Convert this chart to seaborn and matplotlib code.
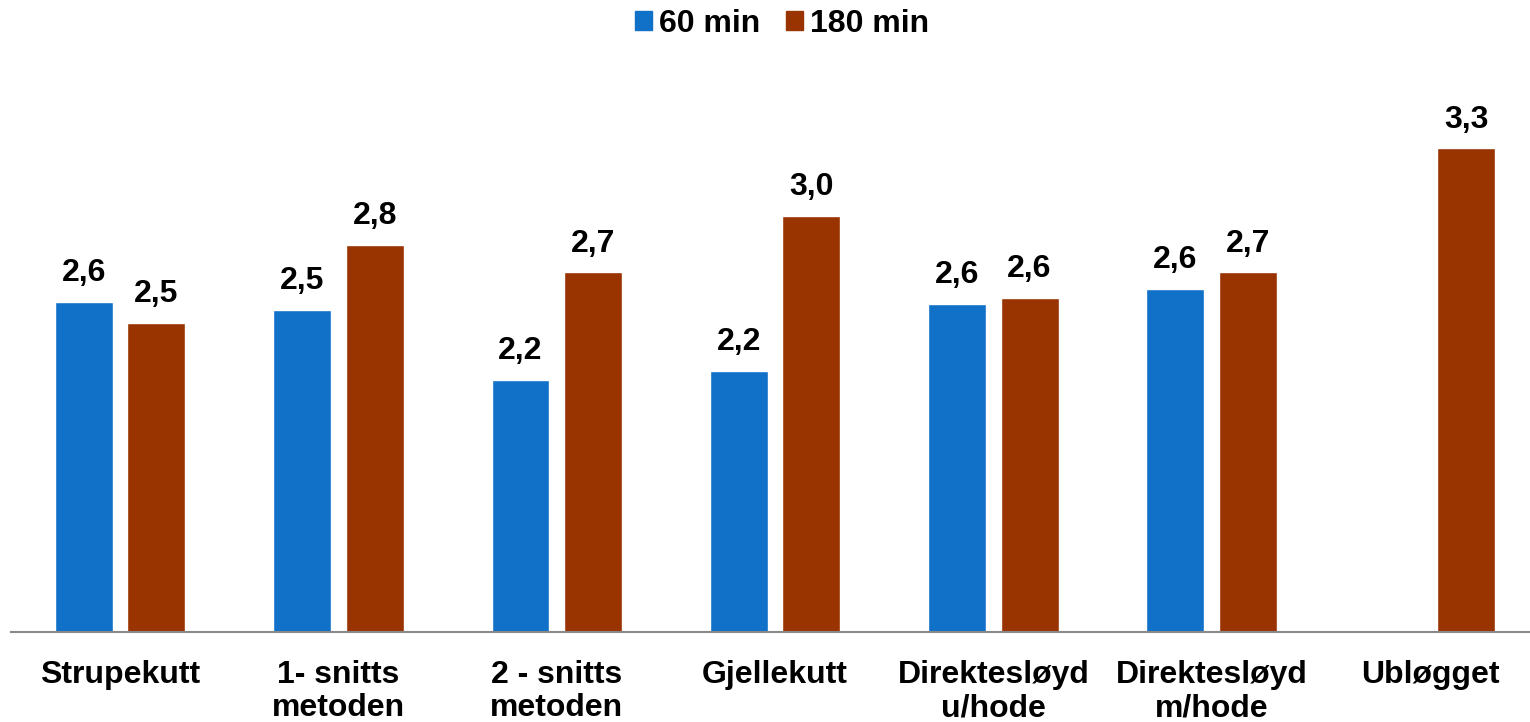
import pandas as pd
import numpy as np
import matplotlib
matplotlib.use("Agg")
import matplotlib.pyplot as plt
import seaborn as sns
from matplotlib.patches import Patch

# Data
categories = ["Strupekutt", "1- snitts\nmetoden", "2 - snitts\nmetoden", "Gjellekutt",
              "Direktesløyd\nu/hode", "Direktesløyd\nm/hode", "Ubløgget"]
series = ["60 min", "180 min"]
values_60 = [2.57, 2.53, 2.20, 2.24, 2.56, 2.63, np.nan]
values_180 = [2.47, 2.84, 2.71, 2.98, 2.59, 2.71, 3.30]
colors = ["#1170C8", "#993300"]

df = pd.DataFrame({
    "kategori": categories * 2,
    "tid": ["60 min"] * len(categories) + ["180 min"] * len(categories),
    "verdi": values_60 + values_180,
})

sns.set_style("white")
plt.rcParams['font.family'] = ['Liberation Sans', 'DejaVu Sans']
plt.rcParams['text.color'] = 'black'
plt.rcParams['xtick.color'] = 'black'

fig = plt.figure(figsize=(15.3, 7.22), dpi=100)
ax = fig.add_axes([0.0072, 0.1247, 0.9987, 0.728])

sns.barplot(data=df, x="kategori", y="verdi", hue="tid", order=categories,
            hue_order=series, palette=colors, width=0.664, gap=0.2,
            saturation=1, legend=False, ax=ax)

ax.set_ylim(1, 3.5)
ax.set_xlim(-0.5, 6.5)

# data labels
for cont in ax.containers:
    labels = [f"{b.get_height():.1f}".replace(".", ",") if np.isfinite(b.get_height()) else ""
              for b in cont]
    ax.bar_label(cont, labels=labels, padding=10, fontsize=23, fontweight="bold",
                 color="black")

ax.set_xlabel("")
ax.set_ylabel("")
ax.set_yticks([])
ax.tick_params(axis="x", length=0, pad=20, labelcolor="black")
for lab in ax.get_xticklabels():
    lab.set_fontsize(23)
    lab.set_fontweight("bold")
    lab.set_linespacing(1.15)
    lab.set_verticalalignment("top")

for s in ["left", "top", "right"]:
    ax.spines[s].set_visible(False)
ax.spines["bottom"].set_color("#898989")
ax.spines["bottom"].set_linewidth(1.5)

handles = [Patch(color=c, label=s) for c, s in zip(colors, series)]
fig.legend(handles=handles, loc="upper center", bbox_to_anchor=(0.511, 1.028), ncol=2,
           frameon=False, prop={"size": 23, "weight": "bold"},
           handlelength=0.55, handleheight=0.55, handletextpad=0.2, columnspacing=0.8)

plt.savefig("out.png", dpi=100)
